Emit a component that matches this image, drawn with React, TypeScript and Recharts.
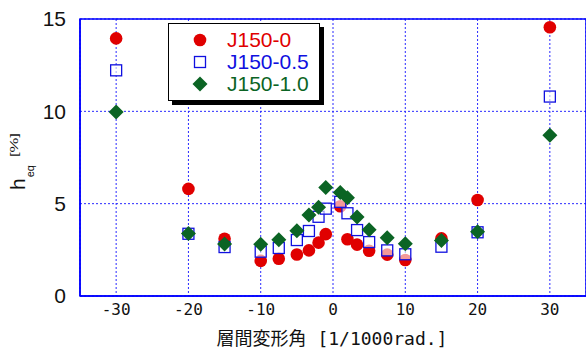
import {
  CartesianGrid,
  ReferenceArea,
  Scatter,
  ScatterChart,
  XAxis,
  YAxis,
} from 'recharts'

// 層間変形角 [1/1000rad.]
const drift0 = [-30, -20, -15, -10, -7.5, -5, -3.33, -2, -1, 1, 2, 3.33, 5, 7.5, 10, 15, 20, 30]
const heqJ0 = [13.95, 5.8, 3.1, 1.9, 2.02, 2.25, 2.47, 2.89, 3.35, 4.86, 3.07, 2.78, 2.45, 2.24, 1.95, 3.12, 5.2, 14.55]
const heqJ05 = [12.22, 3.37, 2.65, 2.4, 2.6, 3.03, 3.52, 4.29, 4.73, 5.1, 4.48, 3.57, 2.92, 2.47, 2.26, 2.67, 3.45, 10.8]
const heqJ10 = [9.96, 3.39, 2.82, 2.8, 3.05, 3.54, 4.39, 4.8, 5.88, 5.61, 5.32, 4.28, 3.59, 3.16, 2.83, 3.0, 3.48, 8.7]

const xTicks = [-30, -20, -10, 0, 10, 20, 30]
const yTicks = [0, 5, 10, 15]

const RED = '#e00000'
const BLUE = '#1010e0'
const GREEN = '#0b6424'
const GRID = '#2a2aff'
const SANS = 'Liberation Sans, Arial, sans-serif'
const MONO = 'DejaVu Sans Mono, monospace'

const toPoints = (ys: number[]) => drift0.map((x, i) => ({ x, y: ys[i] }))

const series = [
  { name: 'J150-0', data: toPoints(heqJ0), color: RED, marker: 'circle' },
  { name: 'J150-0.5', data: toPoints(heqJ05), color: BLUE, marker: 'square' },
  { name: 'J150-1.0', data: toPoints(heqJ10), color: GREEN, marker: 'diamond' },
]

function Marker({ cx, cy, kind, color }: { cx: number; cy: number; kind: string; color: string }) {
  if (kind === 'circle') return <circle cx={cx} cy={cy} r={6.3} fill={color} />
  if (kind === 'square')
    return <rect x={cx - 5.5} y={cy - 5.5} width={11} height={11} fill="#fff" fillOpacity={0.6} stroke={color} strokeWidth={1.3} />
  return <polygon points={`${cx},${cy - 7.5} ${cx + 7.5},${cy} ${cx},${cy + 7.5} ${cx - 7.5},${cy}`} fill={color} />
}

function LegendBox() {
  return (
    <div
      style={{
        position: 'absolute',
        left: 168,
        top: 23,
        width: 152,
        height: 78,
        background: '#fff',
        border: '1.5px solid #000',
        boxShadow: '4px 4px 0 #000',
        boxSizing: 'border-box',
        paddingTop: 5,
      }}
    >
      {series.map((s) => (
        <div key={s.name} style={{ display: 'flex', alignItems: 'center', height: 22 }}>
          <svg width={58} height={20} style={{ flex: 'none' }}>
            <Marker cx={31} cy={10} kind={s.marker} color={s.color} />
          </svg>
          <span style={{ color: s.color, fontFamily: SANS, fontSize: 21, lineHeight: '22px' }}>{s.name}</span>
        </div>
      ))}
    </div>
  )
}

export default function App() {
  return (
    <div style={{ position: 'absolute', left: 0, top: 0, width: 586, height: 352, background: '#fff' }}>
      <ScatterChart width={586} height={352} margin={{ top: 19, right: 0, bottom: 0, left: 0 }}>
        <CartesianGrid stroke={GRID} strokeDasharray="2 2" strokeWidth={1} />
        <XAxis
          type="number"
          dataKey="x"
          domain={[-35, 35]}
          ticks={xTicks}
          height={56}
          tickLine={false}
          axisLine={{ stroke: '#0000ff', strokeWidth: 1.5 }}
          tick={{ fontSize: 16, fill: '#111', fontFamily: MONO }}
          label={{
            content: () => (
              <text x={332} y={345} textAnchor="middle" fill="#111" fontSize={18}>
                <tspan fontFamily="Noto Sans CJK JP, sans-serif">層間変形角</tspan>
                <tspan fontFamily={MONO}> [1/1000rad.]</tspan>
              </text>
            ),
          }}
        />
        <YAxis
          type="number"
          dataKey="y"
          domain={[0, 15]}
          ticks={yTicks}
          width={80}
          tickLine={false}
          tickSize={6}
          tickMargin={8}
          axisLine={{ stroke: '#0000ff', strokeWidth: 1.5 }}
          tick={{ fontSize: 21, fill: '#111', fontFamily: SANS }}
          label={{
            content: () => (
              <text transform="translate(25,190) rotate(-90)" fill="#111" fontFamily={SANS}>
                <tspan fontSize={21}>h</tspan>
                <tspan fontSize={11} dy={9} dx={1}>eq</tspan>
                <tspan fontSize={10} dy={-16} dx={8} textLength={24} lengthAdjust="spacingAndGlyphs">
                  [%]
                </tspan>
              </text>
            ),
          }}
        />
        <ReferenceArea x1={-35} x2={35} y1={0} y2={15} fill="none" stroke="#0000ff" strokeWidth={1.5} />
        {series.map((s) => (
          <Scatter
            key={s.name}
            name={s.name}
            data={s.data}
            isAnimationActive={false}
            shape={(p: any) => <Marker cx={p.cx} cy={p.cy} kind={s.marker} color={s.color} />}
          />
        ))}
      </ScatterChart>
      <LegendBox />
    </div>
  )
}
